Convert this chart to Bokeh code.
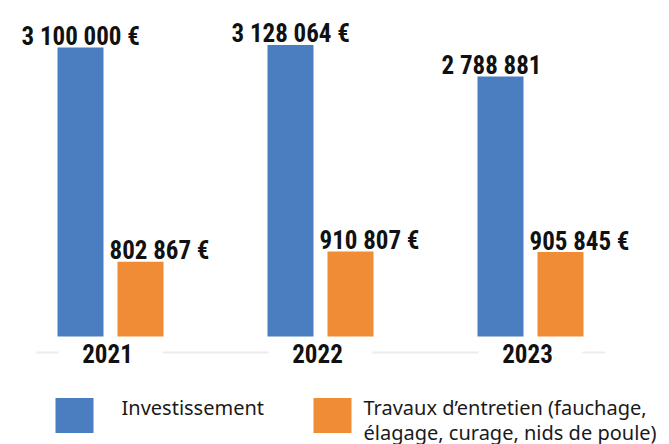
from bokeh.plotting import figure
from bokeh.models import Range1d
from bokeh.embed import file_html
from bokeh.resources import INLINE
from bokeh.core.properties import value

# ---- data ----
years = ["2021", "2022", "2023"]
investissement = [3100000, 3128064, 2788881]
entretien = [802867, 910807, 905845]
inv_labels = ["3 100 000 €", "3 128 064 €", "2 788 881"]
ent_labels = ["802 867 €", "910 807 €", "905 845 €"]
legend_labels = ["Investissement",
                 "Travaux d’entretien (fauchage,\nélagage, curage, nids de poule)"]

BLUE = "#4A7EC0"
ORANGE = "#F08C36"
W, H = 669, 444

# layout helpers (reference-pixel -> data coordinates)
PX_PER_GROUP = 210.0
G0 = 110.0
BASE = 336.0
PX_PER_M = 93.2


def dx(px):
    return (px - G0) / PX_PER_GROUP


def dy(py):
    return (BASE - py) / PX_PER_M * 1e6


p = figure(width=W, height=H, x_range=Range1d(dx(0), dx(W)),
           y_range=Range1d(dy(H), dy(0)),
           output_backend="svg", toolbar_location=None,
           x_axis_type=None, y_axis_type=None, min_border=0)
p.grid.visible = False
p.outline_line_color = None
p.background_fill_color = "white"

n = len(years)
off = 30 / PX_PER_GROUP
bw = 46 / PX_PER_GROUP
xi = [i - off for i in range(n)]
xe = [i + off for i in range(n)]

# baseline (broken around year labels)
gap = 52 / PX_PER_GROUP
x0s = [dx(36)] + [i + gap for i in range(n - 1)] + [n - 1 + gap]
x1s = [0 - gap] + [i + 1 - gap for i in range(n - 1)] + [dx(605)]
yb = dy(352)
p.segment(x0=x0s, y0=[yb] * len(x0s), x1=x1s, y1=[yb] * len(x0s),
          line_color="#ececec", line_width=2)

p.vbar(x=xi, top=investissement, bottom=0, width=bw, fill_color=BLUE, line_color=None)
p.vbar(x=xe, top=entretien, bottom=0, width=bw, fill_color=ORANGE, line_color=None)

FONT_B = value("Roboto Condensed, Roboto")
FS = "25px"
p.text(x=xi, y=investissement, text=inv_labels, text_align="left",
       text_baseline="alphabetic", x_offset=-59, y_offset=-11,
       text_font=FONT_B, text_font_style="bold", text_font_size=FS,
       text_color="#111111")
p.text(x=xe, y=entretien, text=ent_labels, text_align="left",
       text_baseline="alphabetic", x_offset=-31, y_offset=-11,
       text_font=FONT_B, text_font_style="bold", text_font_size=FS,
       text_color="#111111")

p.text(x=list(range(n)), y=[yb] * n, text=years, text_align="center",
       text_baseline="middle", x_offset=-3, y_offset=1,
       text_font=FONT_B, text_font_style="bold", text_font_size=FS,
       text_color="#111111")

# legend
ly = dy(415)
p.rect(x=[dx(74)], y=[ly], width=38, height=35, width_units="screen",
       height_units="screen", fill_color=BLUE, line_color=None)
p.rect(x=[dx(332)], y=[ly], width=38, height=35, width_units="screen",
       height_units="screen", fill_color=ORANGE, line_color=None)
p.text(x=[dx(121), dx(363)], y=[dy(393)] * 2, text=legend_labels,
       text_align="left", text_baseline="top",
       text_font=value("Noto Sans"), text_font_size="20px",
       text_color="#1a1a1a", text_line_height=0.95)

with open("out.html", "w") as f:
    f.write(file_html(p, INLINE))
